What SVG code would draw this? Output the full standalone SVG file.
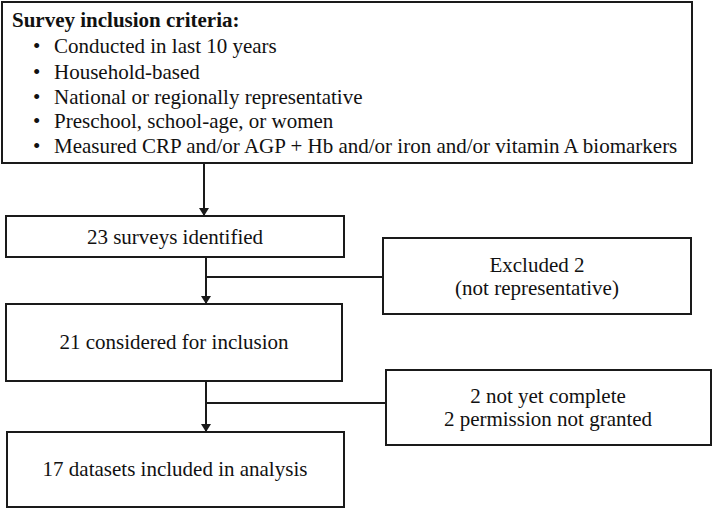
<svg xmlns="http://www.w3.org/2000/svg" width="714" height="510" viewBox="0 0 714 510">
<style>
.box{fill:#fff;stroke:#1a1a1a;stroke-width:2}
.t{font-family:"Liberation Serif","Times New Roman",serif;font-size:21px;fill:#111}
.c{text-anchor:middle}
.b{font-weight:bold}
.ln{stroke:#1a1a1a;stroke-width:2;fill:none}
</style>
<defs>
<marker id="ah" markerWidth="8" markerHeight="10" refX="8" refY="5" orient="auto" markerUnits="userSpaceOnUse">
<path d="M0,0 L8,5 L0,10 Z" fill="#1a1a1a"/>
</marker>
</defs>
<rect width="714" height="510" fill="#fff"/>
<g id="criteria">
<rect class="box" x="2" y="2" width="690" height="161"/>
<text class="t b" x="12" y="27">Survey inclusion criteria:</text>
<text class="t" x="33" y="53">•</text><text class="t" x="54" y="53">Conducted in last 10 years</text>
<text class="t" x="33" y="79">•</text><text class="t" x="54" y="79">Household-based</text>
<text class="t" x="33" y="104">•</text><text class="t" x="54" y="104">National or regionally representative</text>
<text class="t" x="33" y="128">•</text><text class="t" x="54" y="128">Preschool, school-age, or women</text>
<text class="t" x="33" y="153">•</text><text class="t" x="54" y="153">Measured CRP and/or AGP + Hb and/or iron and/or vitamin A biomarkers</text>
</g>
<g id="identified">
<rect class="box" x="6" y="216" width="338" height="41"/>
<text class="t c" x="175" y="244">23 surveys identified</text>
</g>
<g id="excluded">
<rect class="box" x="383" y="238" width="308" height="76"/>
<text class="t c" x="537" y="272">Excluded 2</text>
<text class="t c" x="537" y="295">(not representative)</text>
</g>
<g id="considered">
<rect class="box" x="6" y="304" width="336" height="77"/>
<text class="t c" x="174" y="349">21 considered for inclusion</text>
</g>
<g id="notincluded">
<rect class="box" x="386" y="370" width="325" height="75"/>
<text class="t c" x="548" y="403">2 not yet complete</text>
<text class="t c" x="548" y="426">2 permission not granted</text>
</g>
<g id="included">
<rect class="box" x="7" y="432" width="337" height="75"/>
<text class="t c" x="175" y="476">17 datasets included in analysis</text>
</g>
<g id="connectors">
<line class="ln" x1="204" y1="163" x2="204" y2="216" marker-end="url(#ah)"/>
<line class="ln" x1="206" y1="257" x2="206" y2="304" marker-end="url(#ah)"/>
<line class="ln" x1="206" y1="277" x2="383" y2="277"/>
<line class="ln" x1="206" y1="381" x2="206" y2="432" marker-end="url(#ah)"/>
<line class="ln" x1="206" y1="403" x2="386" y2="403"/>
</g>
</svg>
